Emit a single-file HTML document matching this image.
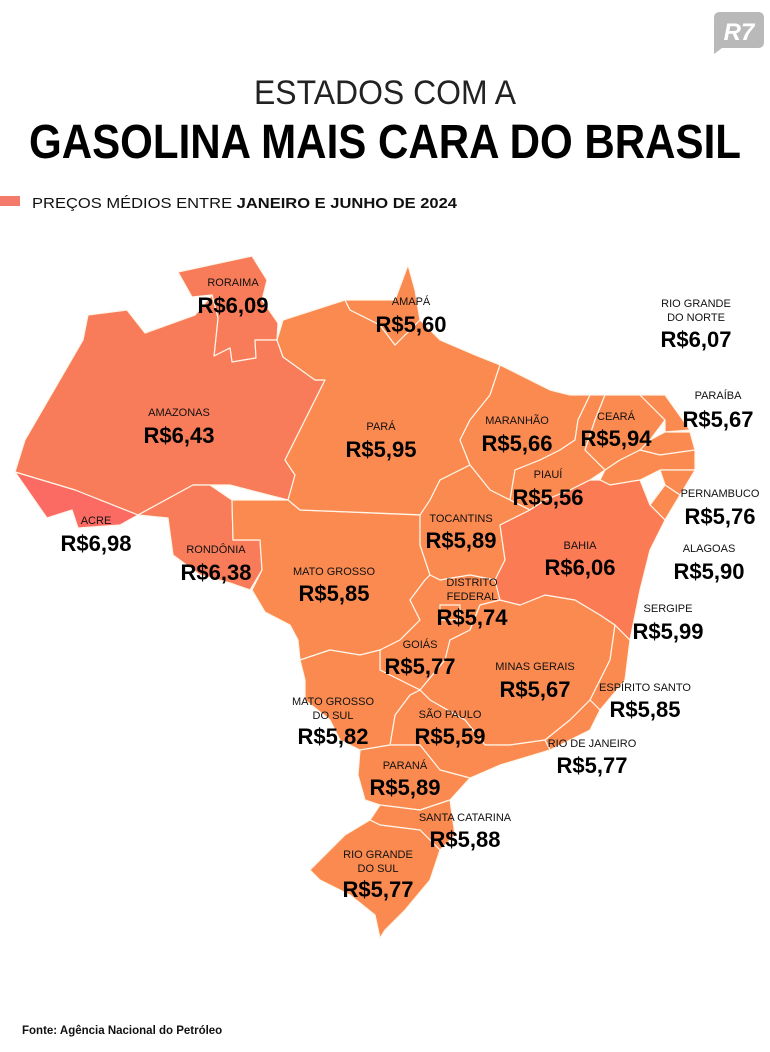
<!DOCTYPE html>
<html><head><meta charset="utf-8"><style>
html,body{margin:0;padding:0;background:#fff;}
svg{display:block;}
text{font-family:"Liberation Sans",sans-serif;}
.v{font-weight:bold;font-size:22px;fill:#000;}
.l{font-size:11px;fill:#111;}
</style></head><body>
<svg width="770" height="1052" viewBox="0 0 770 1052" xmlns="http://www.w3.org/2000/svg">
<rect width="770" height="1052" fill="#fff"/>
<!-- R7 logo -->
<path d="M714 12 H758 Q764 12 764 18 V42 Q764 48 758 48 H722 L714 54 V18 Q714 12 720 12 Z" fill="#b9b9b9"/>
<text x="739" y="40" font-size="24" font-weight="bold" fill="#fff" text-anchor="middle" font-style="italic">R7</text>
<text x="385" y="104" font-size="34" fill="#222" text-anchor="middle" textLength="262" lengthAdjust="spacingAndGlyphs" style="font-weight:300">ESTADOS COM A</text>
<text x="385" y="158" font-size="48" font-weight="bold" fill="#000" text-anchor="middle" textLength="712" lengthAdjust="spacingAndGlyphs">GASOLINA MAIS CARA DO BRASIL</text>
<rect x="0" y="196" width="20" height="10" fill="#f47a6c"/>
<text x="32" y="208" font-size="15" fill="#111" textLength="425" lengthAdjust="spacingAndGlyphs">PREÇOS MÉDIOS ENTRE <tspan font-weight="bold">JANEIRO E JUNHO DE 2024</tspan></text>

<g stroke="#fff5e8" stroke-width="1.2" stroke-linejoin="round">
<polygon fill="#f87c5a" points="178,272 252,256 267,280 262,300 278,323 277,340 255,340 256,358 232,362 230,348 214,356 218,318 212,295 192,297"/>
<polygon fill="#f87c5a" points="88,315 127,310 145,333 195,315 212,295 218,318 214,356 230,348 232,362 256,358 255,340 277,340 283,357 315,380 325,380 285,460 295,475 288,500 230,485 193,485 138,515 75,490 15,472 25,440 83,340"/>
<polygon fill="#fb6b63" points="15,472 75,490 138,515 120,525 78,528 72,510 47,518"/>
<polygon fill="#f87c5a" points="138,515 193,485 210,485 232,500 233,540 260,540 262,570 250,590 230,583 200,575 173,555 168,518"/>
<g fill="#fb8a50">
<polygon points="232,500 288,500 300,510 420,515 420,545 430,575 425,580 410,600 420,620 400,640 380,650 360,655 330,650 300,660 298,640 290,625 265,612 252,590 262,570 260,540 233,540"/>
<polygon points="277,340 283,320 345,300 350,310 380,325 395,345 410,330 420,320 440,340 475,355 500,365 490,395 470,420 460,440 470,465 440,480 430,500 425,515 300,510 288,500 295,475 285,460 325,380 315,380 283,357"/>
<polygon points="345,300 395,300 408,265 415,290 420,320 410,330 395,345 380,325 350,310"/>
<polygon points="500,365 550,390 570,395 590,395 578,420 575,440 560,450 540,460 515,470 510,500 490,490 470,465 460,440 470,420 490,395"/>
<polygon points="590,395 605,395 595,420 585,450 605,470 590,480 570,490 545,500 530,510 510,500 515,470 540,460 560,450 575,440 578,420"/>
<polygon points="605,395 640,395 665,420 650,440 640,450 620,460 605,470 585,450 595,420"/>
<polygon points="640,395 665,395 690,430 665,432 665,420"/>
<polygon points="650,440 665,432 690,432 695,450 660,455 640,450"/>
<polygon points="620,460 640,450 660,455 695,450 695,470 660,470 640,480 610,485 600,480 605,470"/>
<polygon points="660,470 695,470 680,495 665,485"/>
<polygon points="665,485 680,495 665,520 650,505"/>
<polygon points="430,500 440,480 470,465 490,490 510,500 530,510 500,525 505,560 495,580 470,575 440,580 430,575 420,545 420,515"/>
<polygon points="430,575 440,580 470,575 495,580 500,600 480,605 470,630 450,640 445,660 420,690 400,680 380,670 380,650 400,640 420,620 410,600 425,580"/>
<polygon points="440,605 460,605 460,620 440,620"/>
<polygon points="500,600 520,605 545,595 575,600 600,615 615,625 610,660 590,700 570,720 545,740 510,745 485,745 465,720 430,700 420,690 445,660 450,640 470,630 480,605"/>
<polygon points="615,625 630,640 625,680 600,710 590,700 610,660"/>
<polygon points="570,720 590,700 600,710 590,730 550,750 545,740"/>
<polygon points="420,690 430,700 465,720 485,745 510,745 545,740 550,750 500,765 470,778 440,770 420,745 390,745 395,715 410,695"/>
<polygon points="300,660 330,650 360,655 380,650 380,670 400,680 420,690 410,695 395,715 390,745 360,750 340,740 330,720 305,700 305,680"/>
<polygon points="360,750 390,745 420,745 440,770 470,778 450,800 420,810 380,805 365,800 358,775"/>
<polygon points="380,805 420,810 450,800 455,835 440,850 420,830 380,825 370,820"/>
<polygon points="370,820 380,825 420,830 440,850 430,880 405,910 385,930 380,938 375,915 350,895 320,880 310,870 330,850 345,835"/>
</g>
<polygon fill="#fb7b55" points="530,510 545,500 570,490 590,480 600,480 610,485 640,480 650,505 665,520 650,550 640,590 630,640 615,625 600,615 575,600 545,595 520,605 500,600 495,580 505,560 500,525"/>
</g>

<g text-anchor="middle">
<text class="l" x="233" y="286">RORAIMA</text><text class="v" x="233" y="313">R$6,09</text>
<text class="l" x="411" y="305">AMAPÁ</text><text class="v" x="411" y="332">R$5,60</text>
<text class="l" x="179" y="416">AMAZONAS</text><text class="v" x="179" y="443">R$6,43</text>
<text class="l" x="381" y="430">PARÁ</text><text class="v" x="381" y="457">R$5,95</text>
<text class="l" x="517" y="424">MARANHÃO</text><text class="v" x="517" y="451">R$5,66</text>
<text class="l" x="616" y="420">CEARÁ</text><text class="v" x="616" y="446">R$5,94</text>
<text class="l" x="548" y="478">PIAUÍ</text><text class="v" x="548" y="505">R$5,56</text>
<text class="l" x="96" y="524">ACRE</text><text class="v" x="96" y="551">R$6,98</text>
<text class="l" x="216" y="553">RONDÔNIA</text><text class="v" x="216" y="580">R$6,38</text>
<text class="l" x="461" y="522">TOCANTINS</text><text class="v" x="461" y="548">R$5,89</text>
<text class="l" x="580" y="549">BAHIA</text><text class="v" x="580" y="575">R$6,06</text>
<text class="l" x="334" y="575">MATO GROSSO</text><text class="v" x="334" y="601">R$5,85</text>
<text class="l" x="472" y="586">DISTRITO</text><text class="l" x="472" y="600">FEDERAL</text><text class="v" x="472" y="625">R$5,74</text>
<text class="l" x="420" y="648">GOIÁS</text><text class="v" x="420" y="674">R$5,77</text>
<text class="l" x="535" y="670">MINAS GERAIS</text><text class="v" x="535" y="697">R$5,67</text>
<text class="l" x="333" y="705">MATO GROSSO</text><text class="l" x="333" y="719">DO SUL</text><text class="v" x="333" y="744">R$5,82</text>
<text class="l" x="450" y="718">SÃO PAULO</text><text class="v" x="450" y="744">R$5,59</text>
<text class="l" x="405" y="769">PARANÁ</text><text class="v" x="405" y="795">R$5,89</text>
<text class="l" x="465" y="821">SANTA CATARINA</text><text class="v" x="465" y="847">R$5,88</text>
<text class="l" x="378" y="858">RIO GRANDE</text><text class="l" x="378" y="872">DO SUL</text><text class="v" x="378" y="897">R$5,77</text>
<text class="l" x="696" y="307">RIO GRANDE</text><text class="l" x="696" y="321">DO NORTE</text><text class="v" x="696" y="347">R$6,07</text>
<text class="l" x="718" y="399">PARAÍBA</text><text class="v" x="718" y="427">R$5,67</text>
<text class="l" x="720" y="497">PERNAMBUCO</text><text class="v" x="720" y="524">R$5,76</text>
<text class="l" x="709" y="552">ALAGOAS</text><text class="v" x="709" y="579">R$5,90</text>
<text class="l" x="668" y="612">SERGIPE</text><text class="v" x="668" y="639">R$5,99</text>
<text class="l" x="645" y="691">ESPÍRITO SANTO</text><text class="v" x="645" y="717">R$5,85</text>
<text class="l" x="592" y="747">RIO DE JANEIRO</text><text class="v" x="592" y="773">R$5,77</text>
</g>
<text x="22" y="1034" font-size="11.5" font-weight="bold" fill="#111">Fonte: Agência Nacional do Petróleo</text>
</svg>
</body></html>
